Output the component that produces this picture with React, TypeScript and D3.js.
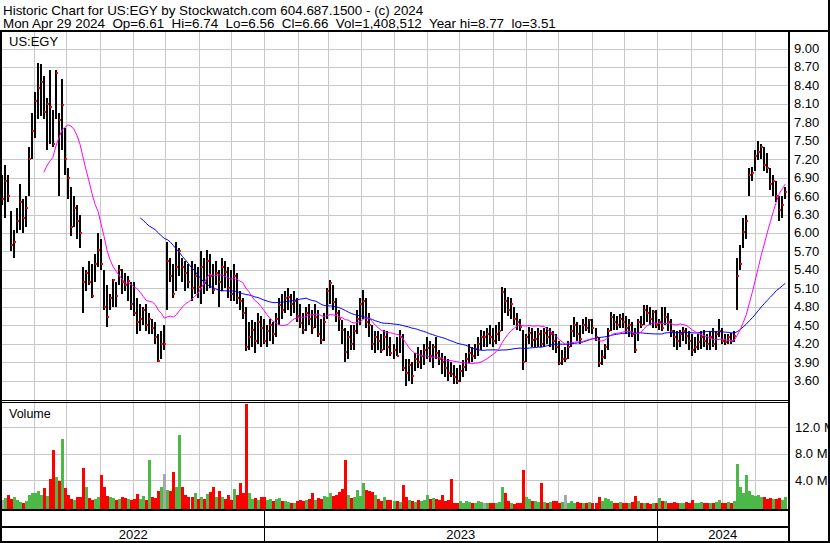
import * as d3 from 'd3'

const TITLE = 'Historic Chart for US:EGY by Stockwatch.com 604.687.1500 - (c) 2024'
const SUBTITLE =
  'Mon Apr 29 2024  Op=6.61  Hi=6.74  Lo=6.56  Cl=6.66  Vol=1,408,512  Year hi=8.77  lo=3.51'
const SYMBOL = 'US:EGY'

const PRICE_TICKS = [
  3.6, 3.9, 4.2, 4.5, 4.8, 5.1, 5.4, 5.7, 6.0, 6.3, 6.6, 6.9, 7.2, 7.5, 7.8, 8.1, 8.4, 8.7, 9.0,
]
const VOLUME_TICKS = [4, 8, 12] // millions
const YEARS = [2022, 2023, 2024]

const FIRST_DAY = new Date(2022, 4, 2)
const LAST_DAY = new Date(2024, 3, 29)

// [high, low, close, volume (M)] — one bar per two sessions
const BARS_2022 = [
  // May
  [6.95, 6.45, 6.55, 1.0], [7.1, 6.25, 6.85, 1.3], [6.95, 6.5, 6.6, 1.8], [6.35, 5.7, 5.8, 1.1],
  [6.05, 5.6, 5.85, 1.4], [6.4, 6.0, 6.2, 1.0], [6.8, 6.05, 6.5, 0.7], [6.55, 6.0, 6.25, 0.5],
  [6.6, 6.1, 6.4, 0.9], [7.4, 6.6, 7.2, 1.7], [7.95, 7.2, 7.65, 2.0],
  // Jun
  [8.3, 7.55, 8.15, 2.0], [8.77, 7.85, 8.35, 2.3], [8.75, 7.9, 8.45, 1.8], [8.55, 7.85, 7.97, 2.8],
  [8.2, 7.35, 8.1, 1.6], [8.65, 7.45, 8.05, 4.2], [8.0, 7.4, 7.45, 8.5], [8.65, 7.85, 8.6, 4.4],
  [7.95, 6.6, 7.84, 3.8], [8.5, 7.35, 8.08, 10.2], [7.7, 6.95, 7.2, 2.8],
  // Jul
  [7.05, 6.55, 6.9, 1.7], [6.75, 5.95, 6.1, 1.2], [6.6, 6.1, 6.4, 1.0], [6.45, 5.9, 6.2, 1.4],
  [6.3, 5.75, 6.0, 1.5], [5.45, 4.7, 5.2, 5.9], [5.4, 5.05, 5.35, 2.9], [5.55, 5.15, 5.2, 1.3],
  [5.5, 4.95, 4.98, 1.0], [5.65, 5.2, 5.5, 1.2], [6.0, 5.45, 5.72, 1.5],
  // Aug
  [5.9, 5.4, 5.5, 4.8], [5.4, 4.75, 4.8, 2.9], [5.15, 4.47, 4.63, 1.6], [5.0, 4.75, 4.95, 1.4],
  [5.25, 4.8, 5.23, 1.3], [5.2, 4.8, 4.98, 1.0], [5.48, 5.15, 5.4, 1.1], [5.42, 5.0, 5.2, 1.5],
  [5.35, 5.05, 5.15, 1.3], [5.3, 4.9, 5.22, 1.2], [5.2, 4.75, 4.85, 1.0],
  // Sep
  [5.2, 4.65, 4.7, 1.2], [4.95, 4.35, 4.55, 1.9], [4.85, 4.4, 4.6, 1.1], [4.8, 4.5, 4.75, 1.6],
  [4.85, 4.4, 4.5, 1.0], [4.7, 4.35, 4.6, 7.1], [4.6, 4.35, 4.45, 1.5], [4.55, 4.2, 4.3, 1.3],
  [4.35, 3.9, 3.92, 2.4], [4.4, 3.95, 4.2, 3.0], [4.5, 4.1, 4.2, 5.0],
  // Oct
  [5.85, 4.75, 5.55, 2.5], [5.6, 5.2, 5.3, 2.4], [5.5, 4.95, 5.0, 5.3], [5.85, 5.05, 5.45, 2.9],
  [5.75, 5.3, 5.7, 10.8], [5.6, 5.2, 5.45, 3.0], [5.55, 5.05, 5.35, 1.8], [5.5, 5.1, 5.2, 1.5],
  [5.55, 4.9, 5.1, 1.4], [5.5, 5.0, 5.3, 2.0], [5.45, 4.95, 5.12, 1.2],
  // Nov
  [5.7, 4.85, 5.45, 1.5], [5.6, 5.0, 5.18, 1.2], [5.72, 5.05, 5.55, 1.9], [5.65, 5.1, 5.3, 2.2],
  [5.5, 5.0, 5.08, 3.0], [5.55, 5.15, 5.35, 1.4], [5.4, 4.8, 5.2, 2.4], [5.6, 5.05, 5.45, 1.5],
  [5.55, 5.1, 5.37, 1.1], [5.45, 4.95, 5.1, 1.8], [5.4, 4.9, 5.0, 1.0],
  // Dec
  [5.5, 4.9, 5.3, 2.6], [5.35, 4.85, 4.95, 1.8], [5.05, 4.75, 4.9, 3.5], [4.95, 4.6, 4.7, 2.0],
  [4.8, 4.08, 4.15, 15.6], [4.55, 4.1, 4.3, 2.0], [4.58, 4.15, 4.42, 1.2], [4.55, 4.05, 4.25, 1.3],
  [4.7, 4.2, 4.55, 1.0], [4.65, 4.15, 4.45, 1.5],
]

const BARS_2023 = [
  // Jan
  [4.6, 4.2, 4.25, 1.5], [4.5, 4.15, 4.4, 1.0], [4.6, 4.25, 4.5, 1.1], [4.55, 4.2, 4.35, 0.9],
  [4.7, 4.3, 4.6, 1.2], [4.95, 4.5, 4.83, 1.3], [5.0, 4.6, 4.75, 0.8], [5.05, 4.7, 4.95, 0.9],
  [5.1, 4.75, 4.96, 0.7], [5.0, 4.65, 4.85, 0.6], [5.05, 4.7, 4.9, 0.6],
  // Feb
  [4.95, 4.55, 4.65, 0.8], [4.85, 4.45, 4.53, 1.0], [4.7, 4.35, 4.42, 0.9], [4.8, 4.4, 4.7, 1.0],
  [4.85, 4.5, 4.6, 1.2], [4.75, 4.35, 4.45, 2.0], [4.85, 4.45, 4.63, 1.0], [4.75, 4.3, 4.35, 1.3],
  [4.6, 4.2, 4.26, 1.1], [4.7, 4.25, 4.55, 1.6],
  // Mar
  [5.1, 4.6, 5.05, 1.5], [5.23, 4.85, 5.18, 2.0], [5.15, 4.75, 4.88, 1.6], [4.95, 4.55, 4.7, 1.7],
  [4.75, 4.4, 4.6, 2.2], [4.58, 4.2, 4.42, 2.6], [4.45, 3.9, 4.06, 7.0], [4.4, 3.95, 4.3, 1.8],
  [4.5, 4.1, 4.2, 1.3], [4.5, 4.1, 4.4, 1.4], [4.75, 4.35, 4.6, 2.5],
  // Apr
  [4.95, 4.5, 4.85, 1.6], [5.08, 4.6, 4.9, 3.6], [4.95, 4.45, 4.55, 2.5], [4.7, 4.3, 4.5, 2.3],
  [4.5, 4.1, 4.2, 2.2], [4.4, 4.05, 4.3, 1.7], [4.4, 4.1, 4.25, 1.2], [4.35, 4.04, 4.1, 0.9],
  [4.42, 4.1, 4.3, 1.5], [4.4, 4.0, 4.15, 1.0],
  // May
  [4.3, 4.0, 4.05, 1.0], [4.2, 3.95, 4.1, 0.9], [4.3, 4.0, 4.0, 0.8], [4.42, 4.05, 4.3, 0.7],
  [4.35, 3.75, 3.8, 3.3], [3.95, 3.51, 3.72, 1.4], [3.95, 3.6, 3.85, 1.0], [3.9, 3.55, 3.68, 0.8],
  [4.05, 3.75, 3.95, 0.7], [4.14, 3.8, 3.9, 1.0], [4.1, 3.78, 4.0, 0.9],
  // Jun
  [4.2, 3.85, 4.1, 1.0], [4.3, 3.95, 4.13, 1.8], [4.25, 3.9, 4.0, 1.1], [4.2, 3.8, 4.15, 1.3],
  [4.3, 3.95, 4.05, 1.2], [4.1, 3.85, 3.95, 1.0], [4.05, 3.7, 3.9, 1.7], [4.0, 3.65, 3.8, 0.9],
  [3.95, 3.6, 3.72, 1.0], [3.9, 3.65, 3.7, 4.2], [3.85, 3.55, 3.66, 0.6],
  // Jul
  [3.8, 3.55, 3.6, 0.6], [3.85, 3.58, 3.75, 0.8], [3.93, 3.65, 3.82, 0.5], [4.05, 3.75, 3.95, 0.9],
  [4.2, 3.88, 4.05, 0.7], [4.15, 3.9, 4.0, 0.6], [4.2, 3.95, 4.12, 0.5], [4.3, 4.0, 4.2, 0.8],
  [4.42, 4.1, 4.3, 0.7], [4.4, 4.15, 4.3, 0.6],
  // Aug
  [4.45, 4.15, 4.35, 0.6], [4.5, 4.2, 4.31, 0.5], [4.45, 4.14, 4.25, 0.6], [4.5, 4.2, 4.35, 0.6],
  [4.55, 4.25, 4.4, 0.7], [5.12, 4.4, 5.04, 2.9], [5.1, 4.7, 4.9, 2.0], [4.96, 4.65, 4.75, 0.8],
  [4.95, 4.6, 4.85, 0.5], [4.8, 4.5, 4.6, 0.4], [4.7, 4.42, 4.55, 0.5],
  // Sep
  [4.6, 4.4, 4.47, 0.5], [4.42, 3.77, 3.9, 5.6], [4.35, 3.9, 4.3, 1.5], [4.47, 4.2, 4.37, 1.1],
  [4.45, 4.15, 4.26, 0.8], [4.4, 4.14, 4.28, 0.8], [4.45, 4.15, 4.35, 0.7], [4.42, 4.14, 4.2, 3.5],
  [4.45, 4.15, 4.37, 0.7], [4.47, 4.2, 4.3, 0.6],
  // Oct
  [4.45, 4.15, 4.35, 0.7], [4.4, 4.1, 4.25, 0.9], [4.35, 4.05, 4.14, 0.8], [4.25, 3.85, 3.88, 0.6],
  [4.1, 3.86, 3.95, 0.7], [4.15, 3.9, 3.95, 1.8], [4.25, 3.95, 4.15, 0.6], [4.5, 4.15, 4.4, 0.9],
  [4.63, 4.3, 4.5, 0.5], [4.55, 4.25, 4.35, 0.7], [4.5, 4.2, 4.28, 0.6],
  // Nov
  [4.6, 4.35, 4.5, 0.5], [4.63, 4.4, 4.45, 0.6], [4.6, 4.37, 4.58, 0.7], [4.6, 4.35, 4.45, 0.5],
  [4.45, 4.25, 4.3, 0.6], [4.3, 3.82, 3.88, 1.5], [4.1, 3.85, 3.98, 0.8], [4.2, 3.95, 4.15, 1.3],
  [4.45, 4.1, 4.4, 1.2], [4.71, 4.4, 4.63, 0.9], [4.68, 4.42, 4.55, 0.6],
  // Dec
  [4.65, 4.42, 4.5, 0.5], [4.68, 4.45, 4.6, 0.7], [4.7, 4.45, 4.55, 0.5], [4.65, 4.35, 4.45, 0.6],
  [4.6, 4.3, 4.5, 0.5], [4.55, 4.3, 4.35, 0.7], [4.45, 4.05, 4.1, 1.6], [4.6, 4.25, 4.55, 0.8],
  [4.65, 4.45, 4.5, 0.5], [4.83, 4.5, 4.75, 0.6],
]

const BARS_2024 = [
  // Jan
  [4.83, 4.55, 4.7, 0.6], [4.8, 4.5, 4.6, 0.4], [4.75, 4.45, 4.72, 0.5], [4.75, 4.45, 4.5, 0.6],
  [4.6, 4.42, 4.55, 1.3], [4.8, 4.4, 4.45, 0.8], [4.8, 4.5, 4.63, 0.9], [4.7, 4.4, 4.55, 0.6],
  [4.6, 4.3, 4.4, 0.5], [4.42, 4.15, 4.3, 0.7], [4.4, 4.1, 4.25, 0.6],
  // Feb
  [4.42, 4.15, 4.35, 0.6], [4.47, 4.25, 4.4, 0.5], [4.45, 4.2, 4.33, 0.7], [4.4, 4.1, 4.25, 0.6],
  [4.35, 4.0, 4.1, 1.0], [4.3, 4.05, 4.15, 0.5], [4.35, 4.1, 4.22, 0.6], [4.4, 4.12, 4.3, 0.7],
  [4.42, 4.15, 4.25, 0.5], [4.35, 4.1, 4.2, 0.6],
  // Mar
  [4.4, 4.1, 4.3, 0.6], [4.45, 4.15, 4.2, 0.5], [4.4, 4.1, 4.35, 0.7], [4.6, 4.3, 4.4, 1.0],
  [4.45, 4.2, 4.25, 0.6], [4.35, 4.18, 4.22, 0.5], [4.35, 4.2, 4.3, 0.7], [4.37, 4.2, 4.25, 0.6],
  [4.4, 4.22, 4.32, 0.8], [5.6, 4.75, 5.3, 6.5], [5.8, 5.4, 5.5, 2.9], [6.25, 5.75, 6.02, 2.0],
  [6.3, 5.9, 6.2, 4.8], [7.05, 6.6, 6.95, 2.3], [7.07, 6.85, 6.97, 1.7],
  // Apr
  [7.35, 7.0, 7.25, 1.6], [7.5, 7.18, 7.32, 1.8], [7.45, 7.2, 7.4, 1.4], [7.4, 7.0, 7.1, 1.5],
  [7.3, 6.97, 7.05, 1.2], [7.05, 6.7, 6.8, 1.3], [6.95, 6.6, 6.85, 1.1], [6.85, 6.5, 6.6, 1.2],
  [6.6, 6.2, 6.37, 1.3], [6.6, 6.25, 6.45, 1.0], [6.74, 6.56, 6.66, 1.4],
]

const SHORT_MA = 15
const LONG_MA = 47

const W = 830
const H = 543
const L = 2
const R = 788
const PRICE_TOP = 32
const PRICE_BOTTOM = 400
const VOL_TOP = 403
const VOL_BOTTOM = 509
const AXIS_MID = 526.5
const AXIS_BOTTOM = 541.5
const FONT = 'Arial, "Liberation Sans", sans-serif'
const GRID = '#c8c8c8'
const UP = '#4cb848'
const DOWN = '#ff0000'
const FLAT = '#a8a8a8'

function movingAverage(values: number[], n: number) {
  const out: { i: number; v: number }[] = []
  for (let i = n - 1; i < values.length; i++) {
    out.push({ i, v: d3.mean(values.slice(i - n + 1, i + 1)) as number })
  }
  return out
}

export default function App() {
  const bars = [...BARS_2022, ...BARS_2023, ...BARS_2024].map(([hi, lo, cl, vol]) => ({
    hi,
    lo,
    cl,
    vol,
  }))
  const closes = bars.map((b) => b.cl)

  const x = d3
    .scaleTime()
    .domain([new Date(2022, 4, 1), new Date(2024, 4, 1)])
    .range([0.5, 787.6])
  const xi = d3
    .scaleLinear()
    .domain([0, bars.length - 1])
    .range([x(FIRST_DAY), x(LAST_DAY)])
  const y = d3.scaleLinear().domain([3.6, 9.0]).range([380.5, 48.5])
  const v = d3.scaleLinear().domain([0, 12]).range([506.5, 427.3])

  const months = d3.timeMonth.range(new Date(2022, 5, 1), new Date(2024, 4, 1))
  const yearEdges = [L, x(new Date(2023, 0, 1)), x(new Date(2024, 0, 1)), R]

  const line = d3
    .line<{ i: number; v: number }>()
    .x((d) => xi(d.i))
    .y((d) => y(d.v))
  const shortMa = movingAverage(closes, SHORT_MA)
  const longMa = movingAverage(closes, LONG_MA)

  const px = (n: number) => Math.round(n) + 0.5

  return (
    <svg
      width={W}
      height={H}
      style={{ position: 'absolute', left: 0, top: 0, background: '#fff' }}
      fontFamily={FONT}
    >
      <defs>
        <clipPath id="price-clip">
          <rect x={L} y={PRICE_TOP} width={R - L} height={PRICE_BOTTOM - PRICE_TOP} />
        </clipPath>
        <clipPath id="vol-clip">
          <rect x={L} y={VOL_TOP} width={R - L} height={VOL_BOTTOM - VOL_TOP} />
        </clipPath>
      </defs>

      {/* header */}
      <text x={3} y={14.5} fontSize={13.4} xmlSpace="preserve" style={{ whiteSpace: 'pre' }}>
        {TITLE}
      </text>
      <text x={3} y={27.5} fontSize={13.4} style={{ whiteSpace: 'pre' }}>
        {SUBTITLE}
      </text>

      {/* grid */}
      <g stroke={GRID} strokeWidth={1} shapeRendering="crispEdges">
        {PRICE_TICKS.map((t) => (
          <line key={t} x1={L} x2={R} y1={px(y(t))} y2={px(y(t))} />
        ))}
        {VOLUME_TICKS.map((t) => (
          <line key={t} x1={L} x2={R} y1={px(v(t))} y2={px(v(t))} />
        ))}
        {months.map((d) => (
          <line key={+d} x1={px(x(d))} x2={px(x(d))} y1={PRICE_TOP} y2={VOL_BOTTOM} />
        ))}
      </g>

      {/* price bars */}
      <g clipPath="url(#price-clip)" shapeRendering="crispEdges">
        {bars.map((b, i) => (
          <rect
            key={i}
            x={Math.round(xi(i)) - 1}
            y={y(b.hi)}
            width={2}
            height={Math.max(1, y(b.lo) - y(b.hi))}
            fill="#000"
          />
        ))}
        {bars.map((b, i) => (
          <rect
            key={i}
            x={Math.round(xi(i))}
            y={Math.round(y(b.cl)) - 1}
            width={2}
            height={2}
            fill={DOWN}
          />
        ))}
      </g>
      <g clipPath="url(#price-clip)" fill="none" strokeWidth={1}>
        <path d={line(longMa) ?? ''} stroke="#0000ff" />
        <path d={line(shortMa) ?? ''} stroke="#ff00ff" />
      </g>

      {/* volume */}
      <g clipPath="url(#vol-clip)" shapeRendering="crispEdges">
        {bars.map((b, i) => {
          const prev = i > 0 ? bars[i - 1].cl : b.cl
          const color = b.cl > prev ? UP : b.cl < prev ? DOWN : FLAT
          return (
            <rect
              key={i}
              x={Math.round(xi(i)) - 1}
              y={v(b.vol)}
              width={3}
              height={VOL_BOTTOM - v(b.vol)}
              fill={color}
            />
          )
        })}
      </g>

      <text x={9} y={46} fontSize={13}>
        {SYMBOL}
      </text>
      <text x={9} y={418} fontSize={12.5}>
        Volume
      </text>

      {/* right axis labels */}
      {PRICE_TICKS.map((t) => (
        <text key={t} x={794} y={y(t)} dy="0.35em" fontSize={13}>
          {t.toFixed(2)}
        </text>
      ))}
      {VOLUME_TICKS.map((t) => (
        <text key={t} x={795} y={v(t)} dy="0.35em" fontSize={13}>
          {`${t.toFixed(1)} M`}
        </text>
      ))}

      {/* frame */}
      <g stroke="#000" fill="none" shapeRendering="crispEdges">
        <line x1={0} x2={W} y1={31} y2={31} strokeWidth={2} />
        <line x1={1} x2={1} y1={31} y2={H} strokeWidth={2} />
        <line x1={W - 1} x2={W - 1} y1={0} y2={H} strokeWidth={2} />
        <line x1={0} x2={W} y1={H - 1.5} y2={H - 1.5} strokeWidth={2} />
        <line x1={R + 1} x2={R + 1} y1={31} y2={H} strokeWidth={2} />
        <line x1={L} x2={R} y1={400.5} y2={400.5} strokeWidth={1} />
        <line x1={L} x2={R} y1={402.5} y2={402.5} strokeWidth={1} />
        <line x1={L} x2={R} y1={510} y2={510} strokeWidth={2} />
        <line x1={L} x2={R} y1={AXIS_MID} y2={AXIS_MID} strokeWidth={2} />
        {yearEdges.slice(1, 3).map((e, k) => (
          <line key={k} x1={px(e)} x2={px(e)} y1={510} y2={AXIS_BOTTOM} strokeWidth={1.5} />
        ))}
      </g>

      {/* year labels */}
      {YEARS.map((yr, k) => (
        <text
          key={yr}
          x={(yearEdges[k] + yearEdges[k + 1]) / 2}
          y={539}
          fontSize={13}
          textAnchor="middle"
        >
          {yr}
        </text>
      ))}
    </svg>
  )
}
